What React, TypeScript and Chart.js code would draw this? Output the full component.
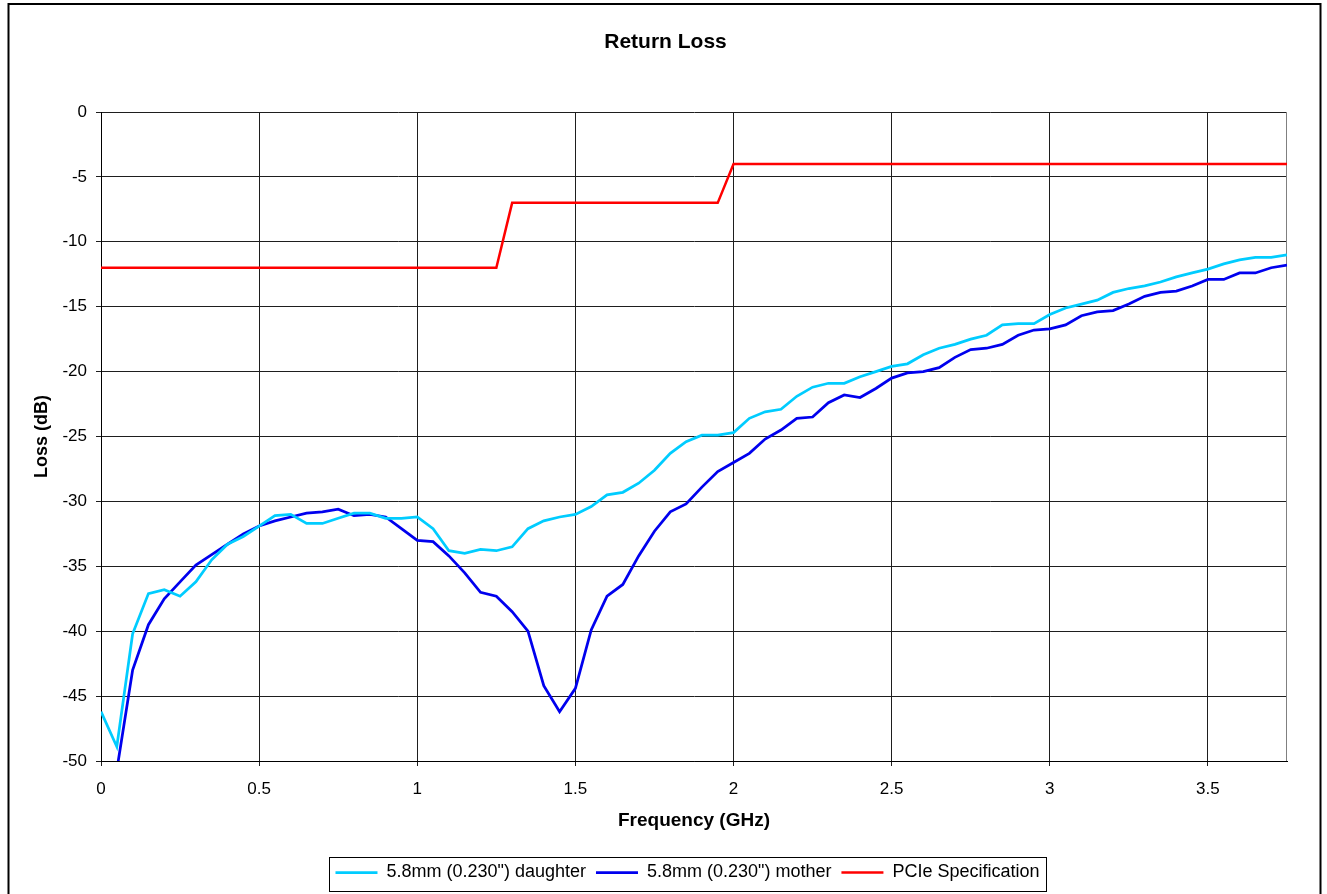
import React, { useEffect, useRef } from 'react';
import { Chart, registerables } from 'chart.js';

Chart.register(...registerables);

// ---------- data ----------
const FREQUENCY_GHZ = [
  0, 0.05, 0.1, 0.15, 0.2, 0.25, 0.3, 0.35, 0.4, 0.45,
  0.5, 0.55, 0.6, 0.65, 0.7, 0.75, 0.8, 0.85, 0.9, 0.95,
  1.0, 1.05, 1.1, 1.15, 1.2, 1.25, 1.3, 1.35, 1.4, 1.45,
  1.5, 1.55, 1.6, 1.65, 1.7, 1.75, 1.8, 1.85, 1.9, 1.95,
  2.0, 2.05, 2.1, 2.15, 2.2, 2.25, 2.3, 2.35, 2.4, 2.45,
  2.5, 2.55, 2.6, 2.65, 2.7, 2.75, 2.8, 2.85, 2.9, 2.95,
  3.0, 3.05, 3.1, 3.15, 3.2, 3.25, 3.3, 3.35, 3.4, 3.45,
  3.5, 3.55, 3.6, 3.65, 3.7, 3.75,
];

const DAUGHTER_DB = [
  -46.2, -48.9, -40.2, -37.1, -36.8, -37.3, -36.2, -34.5, -33.3, -32.7,
  -31.9, -31.1, -31.0, -31.7, -31.7, -31.3, -30.9, -30.9, -31.3, -31.3,
  -31.2, -32.1, -33.8, -34.0, -33.7, -33.8, -33.5, -32.1, -31.5, -31.2,
  -31.0, -30.4, -29.5, -29.3, -28.6, -27.6, -26.3, -25.4, -24.9, -24.9,
  -24.7, -23.6, -23.1, -22.9, -21.9, -21.2, -20.9, -20.9, -20.4, -20.0,
  -19.6, -19.4, -18.7, -18.2, -17.9, -17.5, -17.2, -16.4, -16.3, -16.3,
  -15.6, -15.1, -14.8, -14.5, -13.9, -13.6, -13.4, -13.1, -12.7, -12.4,
  -12.1, -11.7, -11.4, -11.2, -11.2, -11.0,
];

const MOTHER_DB = [
  -52.0, -50.7, -43.0, -39.5, -37.5, -36.2, -34.9, -34.1, -33.3, -32.5,
  -31.9, -31.5, -31.2, -30.9, -30.8, -30.6, -31.1, -31.0, -31.2, -32.1,
  -33.0, -33.1, -34.2, -35.5, -37.0, -37.3, -38.5, -40.0, -44.2, -46.2,
  -44.4, -39.9, -37.3, -36.4, -34.2, -32.3, -30.8, -30.2, -28.9, -27.7,
  -27.0, -26.3, -25.2, -24.5, -23.6, -23.5, -22.4, -21.8, -22.0, -21.3,
  -20.5, -20.1, -20.0, -19.7, -18.9, -18.3, -18.2, -17.9, -17.2, -16.8,
  -16.7, -16.4, -15.7, -15.4, -15.3, -14.8, -14.2, -13.9, -13.8, -13.4,
  -12.9, -12.9, -12.4, -12.4, -12.0, -11.8,
];

const PCIE_SPEC_DB = [
  -12, -12, -12, -12, -12, -12, -12, -12, -12, -12,
  -12, -12, -12, -12, -12, -12, -12, -12, -12, -12,
  -12, -12, -12, -12, -12, -12, -7, -7, -7, -7,
  -7, -7, -7, -7, -7, -7, -7, -7, -7, -7,
  -4, -4, -4, -4, -4, -4, -4, -4, -4, -4,
  -4, -4, -4, -4, -4, -4, -4, -4, -4, -4,
  -4, -4, -4, -4, -4, -4, -4, -4, -4, -4,
  -4, -4, -4, -4, -4, -4,
];

const SERIES_LABELS = [
  '5.8mm (0.230") daughter',
  '5.8mm (0.230") mother',
  'PCIe Specification',
];
const SERIES_COLORS = ['#00CCFF', '#0000EE', '#FF0000'];

const CHART_TITLE = 'Return Loss';
const X_TITLE = 'Frequency (GHz)';
const Y_TITLE = 'Loss (dB)';
const X_MIN = 0;
const X_MAX = 3.75;
const X_STEP = 0.5;
const Y_MIN = -50;
const Y_MAX = 0;
const Y_STEP = 5;

// ---------- styling ----------
const FAMILY = "Arial, 'Liberation Sans', Helvetica, sans-serif";
const GRID_COLOR = '#1e1e1e';
const LEGEND_SHIFT = 22;

const toPoints = (ys: number[]) => FREQUENCY_GHZ.map((x, i) => ({ x, y: ys[i] }));
const fmtTick = (v: any) => String(Math.round(Number(v) * 100) / 100);

const framePlugin = {
  id: 'frames',
  beforeDraw(chart: any) {
    const ctx = chart.ctx;
    ctx.save();
    ctx.fillStyle = '#ffffff';
    ctx.fillRect(0, 0, chart.width, chart.height);
    ctx.strokeStyle = '#000000';
    ctx.lineWidth = 2;
    ctx.strokeRect(8.5, 4, 1312, 1000);
    ctx.restore();
  },
  beforeDatasetsDraw(chart: any) {
    const { ctx, chartArea } = chart;
    ctx.save();
    ctx.strokeStyle = '#808080';
    ctx.lineWidth = 1;
    ctx.beginPath();
    ctx.moveTo(Math.round(chartArea.right) - 0.5, chartArea.top);
    ctx.lineTo(Math.round(chartArea.right) - 0.5, chartArea.bottom);
    ctx.stroke();
    ctx.restore();
  },
  afterLayout(chart: any) {
    const lg = chart.legend;
    if (lg) {
      lg.left += LEGEND_SHIFT;
      lg.right += LEGEND_SHIFT;
    }
  },
  afterDraw(chart: any) {
    const lg = chart.legend;
    if (!lg || !lg.legendHitBoxes || !lg.legendHitBoxes.length) return;
    const hb = lg.legendHitBoxes;
    const first = hb[0];
    const last = hb[hb.length - 1];
    const left = Math.round(first.left - 6) + 0.5;
    const right = Math.round(last.left + last.width + 6) + 0.5;
    const top = Math.round(first.top - 7) + 0.5;
    const bottom = Math.round(first.top + first.height + 9) + 0.5;
    const ctx = chart.ctx;
    ctx.save();
    ctx.strokeStyle = '#000000';
    ctx.lineWidth = 1;
    ctx.strokeRect(left, top, right - left, bottom - top);
    ctx.restore();
  },
};

export default function App() {
  const canvasRef = useRef<HTMLCanvasElement | null>(null);

  useEffect(() => {
    if (!canvasRef.current) return;
    const chart = new Chart(canvasRef.current, {
      type: 'line',
      data: {
        datasets: [
          {
            label: SERIES_LABELS[0],
            data: toPoints(DAUGHTER_DB),
            borderColor: SERIES_COLORS[0],
            backgroundColor: SERIES_COLORS[0],
            borderWidth: 2.75,
            pointRadius: 0,
            tension: 0,
            fill: false,
          },
          {
            label: SERIES_LABELS[1],
            data: toPoints(MOTHER_DB),
            borderColor: SERIES_COLORS[1],
            backgroundColor: SERIES_COLORS[1],
            borderWidth: 2.75,
            pointRadius: 0,
            tension: 0,
            fill: false,
          },
          {
            label: SERIES_LABELS[2],
            data: toPoints(PCIE_SPEC_DB),
            borderColor: SERIES_COLORS[2],
            backgroundColor: SERIES_COLORS[2],
            borderWidth: 2.5,
            pointRadius: 0,
            tension: 0,
            fill: false,
          },
        ],
      },
      options: {
        responsive: false,
        animation: false,
        events: [],
        layout: { padding: { left: 8, right: 4, top: 4, bottom: 2.5 } },
        plugins: {
          title: {
            display: true,
            text: CHART_TITLE,
            color: '#000',
            font: { family: FAMILY, size: 21, weight: 'bold' },
            padding: { top: 25.4, bottom: 57.4 },
          },
          legend: {
            display: true,
            position: 'bottom',
            labels: {
              color: '#000',
              font: { family: FAMILY, size: 18 },
              usePointStyle: true,
              pointStyle: 'line',
              pointStyleWidth: 42,
              padding: 10,
            },
          },
          tooltip: { enabled: false },
        },
        scales: {
          x: {
            type: 'linear',
            min: X_MIN,
            max: X_MAX,
            ticks: {
              stepSize: X_STEP,
              includeBounds: false,
              autoSkip: false,
              maxRotation: 0,
              color: '#000',
              font: { family: FAMILY, size: 17 },
              padding: 12.8,
              callback: fmtTick,
            },
            grid: { color: GRID_COLOR, lineWidth: 1, tickLength: 5, drawTicks: true },
            border: { display: true, color: '#000', width: 1 },
            title: {
              display: true,
              text: X_TITLE,
              color: '#000',
              font: { family: FAMILY, size: 19, weight: 'bold' },
              padding: { top: 0, bottom: 21.1 },
            },
            afterFit: (s: any) => {
              s.height = 92.5;
            },
          },
          y: {
            type: 'linear',
            position: 'left',
            min: Y_MIN,
            max: Y_MAX,
            ticks: {
              stepSize: Y_STEP,
              color: '#000',
              font: { family: FAMILY, size: 17 },
              padding: 9,
              callback: fmtTick,
            },
            grid: { color: GRID_COLOR, lineWidth: 1, tickLength: 5, drawTicks: true },
            border: { display: true, color: '#000', width: 1 },
            title: {
              display: true,
              text: Y_TITLE,
              color: '#000',
              font: { family: FAMILY, size: 18, weight: 'bold' },
              padding: { top: 23.2, bottom: 0 },
            },
            afterFit: (s: any) => {
              s.width = 93;
            },
          },
          yRight: {
            type: 'linear',
            axis: 'y',
            position: 'right',
            min: Y_MIN,
            max: Y_MAX,
            display: true,
            ticks: { display: false },
            grid: { display: false, drawTicks: false },
            border: { display: false },
            afterFit: (s: any) => {
              s.width = 36;
            },
          },
        },
      },
      plugins: [framePlugin],
    } as any);
    return () => chart.destroy();
  }, []);

  return (
    <div style={{ position: 'absolute', left: 0, top: 0, width: 1327, height: 894, overflow: 'hidden' }}>
      <canvas ref={canvasRef} width={1327} height={894} style={{ display: 'block' }} />
    </div>
  );
}
